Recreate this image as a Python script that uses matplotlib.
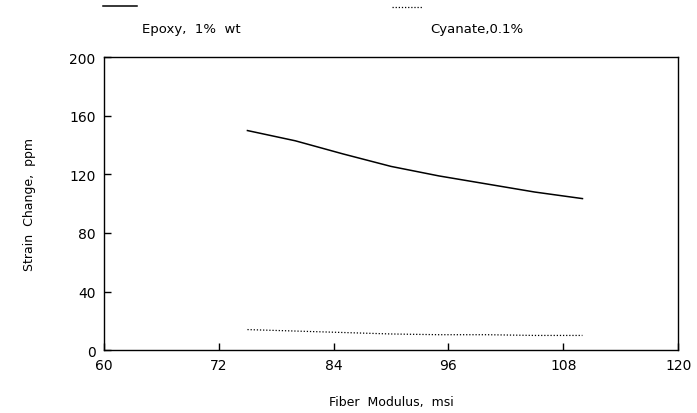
import matplotlib
matplotlib.use('Agg')
import matplotlib.pyplot as plt
from matplotlib.lines import Line2D

# values
fiber_modulus = [75, 80, 85, 90, 95, 100, 105, 110]
epoxy_strain = [150, 143, 134, 125.5, 119, 113.5, 108, 103.5]
cyanate_strain = [14, 13, 12, 11, 10.5, 10.5, 10, 10]

x_ticks = [60, 72, 84, 96, 108, 120]
y_ticks = [0, 40, 80, 120, 160, 200]

plt.rcParams['font.family'] = ['DejaVu Sans']

fig = plt.figure(figsize=(6.97, 4.14), dpi=100)
ax = fig.add_axes([0.149, 0.152, 0.824, 0.707])

ax.plot(fiber_modulus, epoxy_strain, color='black', linewidth=1.1)
ax.plot(fiber_modulus, cyanate_strain, color='black', linewidth=0.9,
        linestyle=(0, (1, 1.5)))

ax.set_xlim(60, 120)
ax.set_ylim(0, 200)
ax.set_xticks(x_ticks)
ax.set_yticks(y_ticks)
ax.tick_params(direction='in', length=5, width=1, labelsize=10, pad=6)
for s in ax.spines.values():
    s.set_linewidth(1)

ax.set_xlabel('Fiber  Modulus,  msi', fontsize=9, labelpad=16)
ax.set_ylabel('Strain  Change,  ppm', fontsize=9, labelpad=24)

# legend drawn above the plot: sample line on top, label underneath
fig.add_artist(Line2D([103 / 697, 137 / 697], [1 - 7 / 414, 1 - 7 / 414],
                      color='black', linewidth=1.1))
fig.add_artist(Line2D([392 / 697, 423 / 697], [1 - 8 / 414, 1 - 8 / 414],
                      color='black', linewidth=0.9, linestyle=(0, (1, 1.5))))
fig.text(142 / 697, 1 - 29 / 414, 'Epoxy,  1%  wt', fontsize=9.5, va='center')
fig.text(430 / 697, 1 - 29 / 414, 'Cyanate,0.1%', fontsize=9.5, va='center')

fig.savefig('out.png', dpi=100)
